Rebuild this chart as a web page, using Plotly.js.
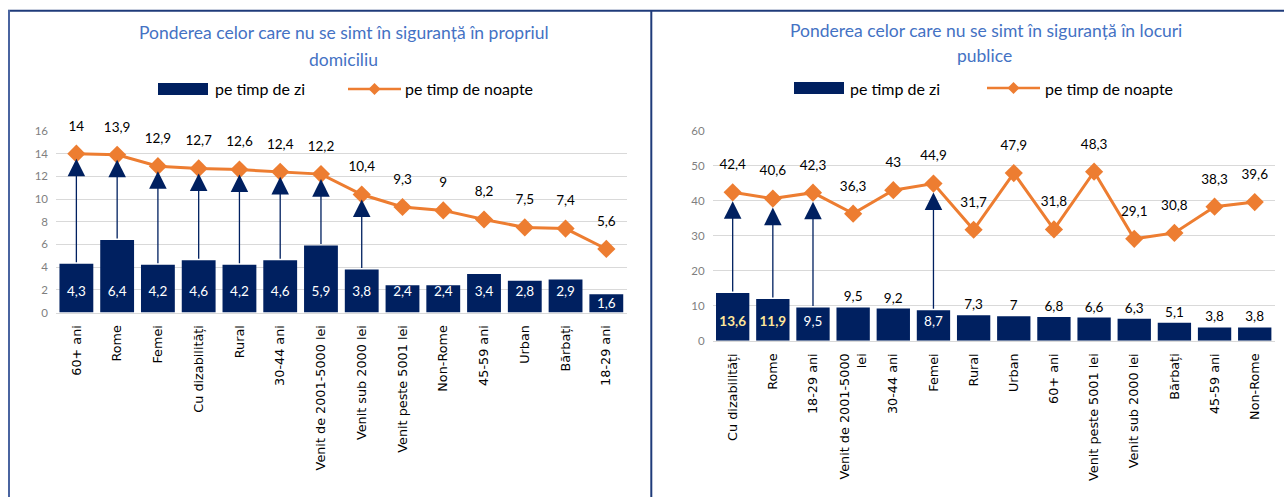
<!DOCTYPE html>
<html>
<head>
<meta charset="utf-8">
<script src="https://cdn.plot.ly/plotly-3.0.1.min.js"></script>
<style>
  html, body { margin: 0; padding: 0; background: #fff; }
  #plot { width: 1284px; height: 497px; }
</style>
</head>
<body>
<div id="plot"></div>
<script>
// left chart: unsafe at home
var catsHome = ["60+ ani", "Rome", "Femei", "Cu dizabilități", "Rural", "30-44 ani",
  "Venit de 2001-5000 lei", "Venit sub 2000 lei", "Venit peste 5001 lei", "Non-Rome",
  "45-59 ani", "Urban", "Bărbați", "18-29 ani"];
var dayHome = [4.3, 6.4, 4.2, 4.6, 4.2, 4.6, 5.9, 3.8, 2.4, 2.4, 3.4, 2.8, 2.9, 1.6];
var nightHome = [14, 13.9, 12.9, 12.7, 12.6, 12.4, 12.2, 10.4, 9.3, 9, 8.2, 7.5, 7.4, 5.6];
var arrowsHome = [0, 1, 2, 3, 4, 5, 6, 7];

// right chart: unsafe in public places
var catsPublic = ["Cu dizabilități", "Rome", "18-29 ani", "Venit de 2001-5000<br>lei", "30-44 ani",
  "Femei", "Rural", "Urban", "60+ ani", "Venit peste 5001 lei", "Venit sub 2000 lei",
  "Bărbați", "45-59 ani", "Non-Rome"];
var dayPublic = [13.6, 11.9, 9.5, 9.5, 9.2, 8.7, 7.3, 7, 6.8, 6.6, 6.3, 5.1, 3.8, 3.8];
var nightPublic = [42.4, 40.6, 42.3, 36.3, 43, 44.9, 31.7, 47.9, 31.8, 48.3, 29.1, 30.8, 38.3, 39.6];
var arrowsPublic = [0, 1, 2, 5];

var NAVY = "#002060", ORANGE = "#ED7D31", BLUE = "#4472C4";
var NUM_FONT = "Lato, 'Open Sans', sans-serif";
var W = 1284, H = 497;
function px(x) { return x / W; }
function py(y) { return 1 - y / H; }
function fmt(v) { return String(v).replace(".", ","); }

function nightLine(cats, vals, xa, ya) {
  return {
    type: "scatter", mode: "lines+markers", x: cats, y: vals, xaxis: xa, yaxis: ya,
    line: { color: ORANGE, width: 3 }, marker: { symbol: "diamond", size: 14, color: ORANGE }
  };
}
// labels of the night series sit a bit higher than plotly's default offset
function nightLabels(cats, vals, xa, ya) {
  return {
    type: "scatter", mode: "markers+text", x: cats, y: vals, xaxis: xa, yaxis: ya,
    marker: { size: 30, opacity: 0 }, text: vals.map(fmt), textposition: "top center",
    cliponaxis: false, hoverinfo: "skip",
    textfont: { family: NUM_FONT, size: 13.5, color: "#000" }
  };
}
// "inside base" labels of the day bars: anchored on the zero line, a little above it
function baseLabels(cats, vals, xa, ya, colors, weights, lift) {
  return {
    type: "scatter", mode: "markers+text", x: cats, y: vals.map(function () { return 0; }),
    xaxis: xa, yaxis: ya, hoverinfo: "skip", cliponaxis: false,
    marker: { opacity: 0, size: vals.map(function (v) { return v < 2 ? 1 : lift; }) },
    text: vals.map(fmt), textposition: "top center",
    textfont: { family: NUM_FONT, size: 13.5, color: colors, weight: weights }
  };
}

var insideCats = arrowsPublic.map(function (i) { return catsPublic[i]; });
var insideVals = arrowsPublic.map(function (i) { return dayPublic[i]; });
var insideColors = arrowsPublic.map(function (i) { return i < 2 ? "#FFE699" : "#FFFFFF"; });
var insideWeights = arrowsPublic.map(function (i) { return i < 2 ? "bold" : "normal"; });
var outsideText = dayPublic.map(function (v, i) { return arrowsPublic.indexOf(i) >= 0 ? "" : fmt(v); });

var data = [
  { type: "bar", x: catsHome, y: dayHome, xaxis: "x", yaxis: "y", marker: { color: NAVY } },
  nightLine(catsHome, nightHome, "x", "y"),
  nightLabels(catsHome, nightHome, "x", "y"),
  baseLabels(catsHome, dayHome, "x", "y", "#FFFFFF", "normal", 19),
  {
    type: "bar", x: catsPublic, y: dayPublic, xaxis: "x2", yaxis: "y2",
    marker: { color: NAVY }, text: outsideText, textposition: "outside",
    constraintext: "none", textangle: 0, cliponaxis: false,
    textfont: { family: NUM_FONT, size: 13.5, color: "#000" }
  },
  nightLine(catsPublic, nightPublic, "x2", "y2"),
  nightLabels(catsPublic, nightPublic, "x2", "y2"),
  baseLabels(insideCats, insideVals, "x2", "y2", insideColors, insideWeights, 16)
];

var annotations = [];
function arrows(list, day, night, xa, ya, standoff) {
  list.forEach(function (i) {
    annotations.push({
      x: i, y: night[i], ax: i, ay: day[i], xref: xa, yref: ya, axref: xa, ayref: ya,
      text: "", showarrow: true, arrowhead: 2, arrowsize: 2.7, arrowwidth: 1.3,
      arrowcolor: NAVY, standoff: standoff
    });
  });
}
arrows(arrowsHome, dayHome, nightHome, "x", "y", 5);
arrows(arrowsPublic, dayPublic, nightPublic, "x2", "y2", 9);

function label(text, x, y, size, color, anchor) {
  annotations.push({
    text: text, x: px(x), y: py(y), xref: "paper", yref: "paper", showarrow: false,
    xanchor: anchor || "center", yanchor: "middle",
    font: { family: NUM_FONT, size: size, color: color }
  });
}
label("Ponderea celor care nu se simt în siguranță în propriul", 344, 33, 17.5, BLUE);
label("domiciliu", 343, 59, 17.5, BLUE);
label("Ponderea celor care nu se simt în siguranță în locuri", 986, 31, 17.5, BLUE);
label("publice", 984, 56, 17.5, BLUE);
label("pe timp de zi", 213, 89, 16, "#000", "left");
label("pe timp de noapte", 403, 89, 16, "#000", "left");
label("pe timp de zi", 848, 88, 16, "#000", "left");
label("pe timp de noapte", 1043, 88, 16, "#000", "left");

var shapes = [
  // frame lines
  { type: "line", xref: "paper", yref: "paper", x0: px(8), x1: 1, y0: py(10.8), y1: py(10.8),
    line: { color: "#1F3B7A", width: 2 } },
  { type: "line", xref: "paper", yref: "paper", x0: px(9), x1: px(9), y0: py(10), y1: 0,
    line: { color: "#4A64A0", width: 2 } },
  { type: "line", xref: "paper", yref: "paper", x0: px(651.3), x1: px(651.3), y0: py(10), y1: 0,
    line: { color: "#1F3B7A", width: 2 } }
];
function legendKeys(bx, lx, y) {
  shapes.push({ type: "rect", xref: "paper", yref: "paper", x0: px(bx), x1: px(bx + 50),
    y0: py(y - 6), y1: py(y + 6), fillcolor: NAVY, line: { width: 0 } });
  shapes.push({ type: "line", xref: "paper", yref: "paper", x0: px(lx), x1: px(lx + 53),
    y0: py(y), y1: py(y), line: { color: ORANGE, width: 2.5 } });
  var cx = lx + 26.5, d = 6;
  shapes.push({ type: "path", xref: "paper", yref: "paper",
    path: "M" + px(cx - d) + "," + py(y) + " L" + px(cx) + "," + py(y - d) + " L" + px(cx + d) + "," + py(y) +
      " L" + px(cx) + "," + py(y + d) + " Z",
    fillcolor: ORANGE, line: { width: 0 } });
}
legendKeys(158, 348, 89);
legendKeys(794, 987, 88);

function xAxis(domain, anchor) {
  return {
    domain: domain, anchor: anchor, type: "category", range: [-0.5, 13.5], autorange: false,
    tickangle: -90, ticks: "", ticklabelstandoff: 6,
    tickfont: { family: "'DejaVu Sans', sans-serif", size: 12.8, color: "#000" },
    showline: true, linecolor: "#D9D9D9", linewidth: 1.5, showgrid: false, fixedrange: true
  };
}
function yAxis(domain, range, dtick, anchor) {
  return {
    domain: domain, range: range, dtick: dtick, anchor: anchor, ticks: "", ticklabelstandoff: 7,
    tickfont: { family: NUM_FONT, size: 11.5, color: "#7F7F7F" },
    showgrid: true, gridcolor: "#D9D9D9", gridwidth: 1, zeroline: false, showline: false, fixedrange: true
  };
}

var layout = {
  width: W, height: H, margin: { l: 0, r: 0, t: 0, b: 0 },
  paper_bgcolor: "#fff", plot_bgcolor: "#fff", showlegend: false, bargap: 0.17,
  xaxis: xAxis([px(56), px(626.7)], "y"),
  yaxis: yAxis([py(312.5), py(131)], [0, 16], 2, "x"),
  xaxis2: xAxis([px(712.6), px(1274.8)], "y2"),
  yaxis2: yAxis([py(340.7), py(130.7)], [0, 60], 10, "x2"),
  annotations: annotations,
  shapes: shapes
};

Plotly.newPlot("plot", data, layout, { displayModeBar: false, staticPlot: true });
</script>
</body>
</html>
